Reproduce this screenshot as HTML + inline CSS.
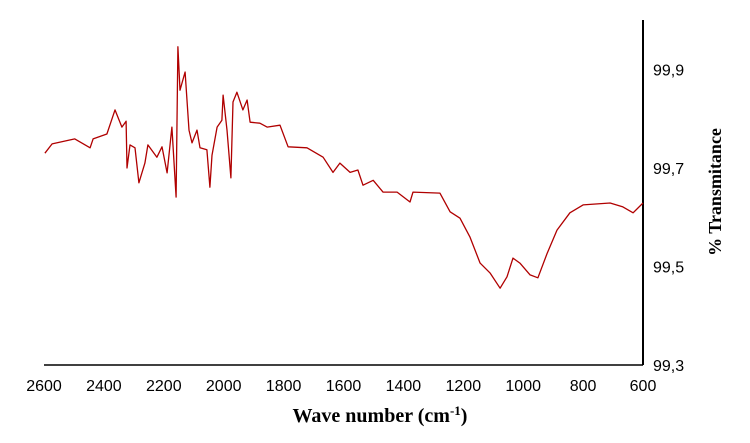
<!DOCTYPE html>
<html><head><meta charset="utf-8"><style>
html,body{margin:0;padding:0;background:#fff;width:750px;height:443px;overflow:hidden}
</style></head><body>
<svg width="750" height="443" font-family="Liberation Sans, sans-serif">
<g id="axes"></g>
<polyline id="series" fill="none" stroke="#b00000" stroke-width="1.3" stroke-linejoin="round"/>
<text x="380" y="422" text-anchor="middle" font-family="Liberation Serif, serif" font-weight="bold" font-size="20">Wave number (cm<tspan dy="-7" font-size="13">-1</tspan><tspan dy="7">)</tspan></text>
<text transform="translate(721,192) rotate(-90)" text-anchor="middle" font-family="Liberation Serif, serif" font-weight="bold" font-size="18">% Transmitance</text>
</svg>
<script>
const wavenumbers=[2597,2573,2497,2446,2436,2390,2363,2340,2326,2323,2313,2296,2283,2263,2253,2223,2206,2189,2173,2159,2153,2146,2129,2116,2106,2089,2079,2056,2046,2039,2022,2006,2002,1989,1976,1969,1956,1936,1922,1912,1879,1855,1812,1785,1722,1668,1635,1612,1578,1552,1535,1501,1468,1421,1378,1368,1278,1244,1211,1178,1144,1111,1077,1054,1034,1011,977,951,920,887,844,800,710,667,633,600];
const transmittance=[99.730,99.749,99.759,99.741,99.759,99.769,99.818,99.783,99.795,99.700,99.747,99.741,99.670,99.710,99.747,99.722,99.743,99.690,99.783,99.641,99.946,99.858,99.895,99.777,99.751,99.777,99.741,99.737,99.661,99.726,99.783,99.797,99.848,99.777,99.680,99.834,99.854,99.818,99.838,99.793,99.791,99.783,99.787,99.743,99.741,99.722,99.691,99.710,99.691,99.696,99.665,99.675,99.651,99.651,99.631,99.651,99.649,99.611,99.598,99.560,99.507,99.487,99.456,99.479,99.517,99.507,99.483,99.477,99.527,99.574,99.609,99.625,99.629,99.621,99.609,99.629];
const xTicks=[2600,2400,2200,2000,1800,1600,1400,1200,1000,800,600];
const yTicks=[99.3,99.5,99.7,99.9];
const xs=w=>44+(2600-w)*599/2000;
const ys=t=>365-(t-99.3)*492.5;
const NS="http://www.w3.org/2000/svg";
const g=document.getElementById('axes');
function mk(tag,attrs){const e=document.createElementNS(NS,tag);for(const k in attrs)e.setAttribute(k,attrs[k]);g.appendChild(e);return e;}
let xl=mk('line',{x1:44,y1:365,x2:643,y2:365,stroke:'#000','stroke-width':1.5});


let yl=mk('line',{x1:643,y1:20,x2:643,y2:365,stroke:'#000','stroke-width':2});


xTicks.forEach(v=>{
  const t=mk('text',{x:xs(v),y:391,'text-anchor':'middle','font-size':16});
  t.textContent=v;
  
  
});
yTicks.forEach(v=>{
  const t=mk('text',{x:653,y:ys(v)+6,'font-size':16});
  t.textContent=v.toFixed(1).replace('.',',');
  
  
});
document.getElementById('series').setAttribute('points',wavenumbers.map((w,i)=>xs(w).toFixed(1)+','+ys(transmittance[i]).toFixed(1)).join(' '));
</script>
</body></html>
